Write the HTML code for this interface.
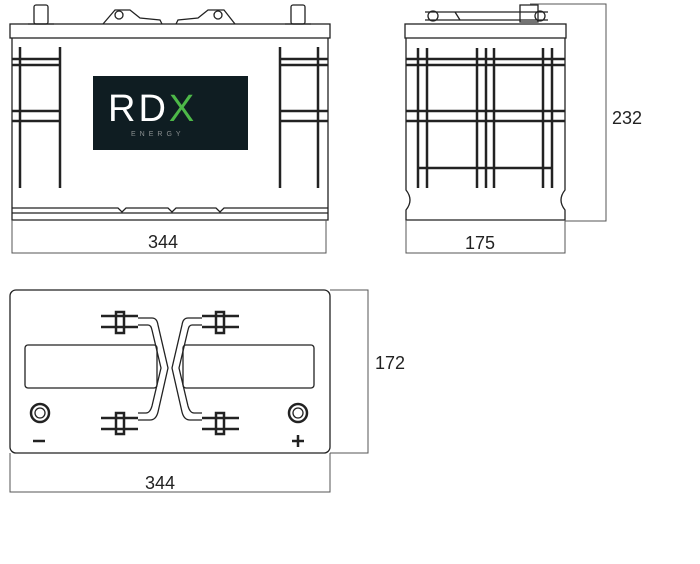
<!DOCTYPE html>
<html><head><style>body{margin:0;background:#fff}svg{display:block}text{font-family:"Liberation Sans",sans-serif;fill:#222}</style></head><body>
<svg width="700" height="564" viewBox="0 0 700 564" xmlns="http://www.w3.org/2000/svg">
<g fill="none" stroke="#222" stroke-width="1.3">
<!-- FRONT VIEW -->
<rect x="34" y="5" width="14" height="19" rx="2"/><rect x="291" y="5" width="14" height="19" rx="2"/>
<path d="M28 24 L54 24 M285 24 L311 24"/>
<path d="M103 24 L115 10 L130 10 L140 18 L160 20 L162 24 M235 24 L224 10 L208 10 L198 18 L178 20 L176 24"/>
<circle cx="119" cy="15" r="4"/><circle cx="218" cy="15" r="4"/>
<rect x="10" y="24" width="320" height="14"/>
<path d="M12 38 V220 H328 V38"/>
<path d="M12 208 H118 L122 212 L126 208 H168 L172 212 L176 208 H216 L220 212 L224 208 H328 M12 213 H328"/>
<g stroke-width="2.5"><path d="M20 47 V188 M60 47 V188 M280 47 V188 M318 47 V188"/>
<path d="M12 59 H60 M12 65 H60 M12 111 H60 M12 121 H60 M280 59 H328 M280 65 H328 M280 111 H328 M280 121 H328"/></g>
<path d="M12 220 V253 H326 V220" stroke-width="1" stroke="#555"/>
<!-- SIDE VIEW -->
<path d="M425 12 H548 M425 20 H548 M455 12 L460 20 M520 5 H538 V22 H520 Z"/>
<circle cx="433" cy="16" r="5"/><circle cx="540" cy="16" r="5"/>
<rect x="405" y="24" width="161" height="14"/>
<path d="M406 38 V190 Q414 200 406 210 V220 H565 V210 Q557 200 565 190 V38"/>
<g stroke-width="2.5"><path d="M418 48 V188 M427 48 V188 M477 48 V188 M486 48 V188 M494 48 V188 M543 48 V188 M552 48 V188"/>
<path d="M406 59 H565 M406 65 H565 M406 111 H565 M406 121 H565 M418 168 H552"/></g>
<g stroke-width="1" stroke="#555"><path d="M406 220 V253 H565 V220 M530 4 H606 V221 H565"/></g>
<!-- TOP VIEW -->
<rect x="10" y="290" width="320" height="163" rx="6"/>
<rect x="25" y="345" width="132" height="43" rx="3"/><rect x="183" y="345" width="131" height="43" rx="3"/>
<circle cx="40" cy="413" r="9" stroke-width="2.5"/><circle cx="40" cy="413" r="5"/>
<circle cx="298" cy="413" r="9" stroke-width="2.5"/><circle cx="298" cy="413" r="5"/>
<g stroke-width="2.5">
<path d="M101 316 H138 M101 327 H138 M101 418 H138 M101 429 H138 M202 316 H239 M202 327 H239 M202 418 H239 M202 429 H239"/>
<path d="M116 312 H124 V333 H116 Z M116 413 H124 V434 H116 Z M216 312 H224 V333 H216 Z M216 413 H224 V434 H216 Z"/></g>
<path d="M138 318 H152 Q157 318 158 325 L168 368 L158 412 Q156 420 150 420 H138 M138 325 H148 Q151 325 152 330 L161 368 L152 406 Q150 413 146 413 H138"/>
<path d="M202 318 H188 Q183 318 182 325 L172 368 L182 412 Q184 420 190 420 H202 M202 325 H192 Q189 325 188 330 L179 368 L188 406 Q190 413 194 413 H202"/>
<g stroke-width="1" stroke="#555"><path d="M10 453 V492 H330 V453 M330 290 H368 V453 H330"/></g>
</g>
<rect x="93" y="76" width="155" height="74" fill="#0f1d22"/>
<text x="108" y="121" font-size="38" letter-spacing="3"><tspan style="fill:#fff">RD</tspan><tspan style="fill:#4db848">X</tspan></text>
<text x="131" y="136" font-size="7" style="fill:#8a8f90" letter-spacing="4">ENERGY</text>
<g font-size="18">
<text x="163" y="248" text-anchor="middle">344</text>
<text x="480" y="249" text-anchor="middle">175</text>
<text x="612" y="124">232</text>
<text x="160" y="489" text-anchor="middle">344</text>
<text x="375" y="369">172</text>
</g>
<path d="M33 441 H45" stroke="#222" stroke-width="2.5"/>
<path d="M292 441 H304 M298 435 V447" stroke="#222" stroke-width="2.5"/>
</svg>
</body></html>
